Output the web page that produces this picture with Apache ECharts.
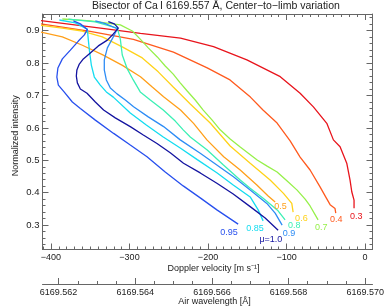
<!DOCTYPE html>
<html><head><meta charset="utf-8">
<script src="https://cdn.jsdelivr.net/npm/echarts@6/dist/echarts.min.js"></script>
<style>html,body{margin:0;padding:0;background:#fff}#c{width:389px;height:306px}</style>
</head><body><div id="c"></div>
<script>
// ---- data ----
const muLabels = ['0.3','0.4','0.5','0.6','0.7','0.8','0.85','0.9','0.95','μ=1.0'];
const velTicks = [-400,-300,-200,-100,0];
const waveTicks = [6169.562,6169.564,6169.566,6169.568,6169.570];
const intTicks = [0.3,0.4,0.5,0.6,0.7,0.8,0.9];

const v_mu030 = [-415,-337,-286,-235,-193,-150.5,-108,-82.7,-65.8,-48.7,-40.3,-31.8,-23.3,-19.1,-16.9,-14,-14];
const i_mu030 = [0.932,0.908,0.892,0.877,0.851,0.810,0.758,0.707,0.665,0.614,0.563,0.542,0.491,0.439,0.403,0.377,0.352];
const v_mu040 = [-415,-350,-295,-244,-201,-172,-146,-130,-112,-95.4,-82.7,-70,-57.3,-49.6,-44.5,-38.2,-37.3];
const i_mu040 = [0.922,0.898,0.873,0.834,0.785,0.748,0.695,0.655,0.615,0.560,0.510,0.470,0.418,0.385,0.363,0.351,0.337];
const v_mu050 = [-415,-385.5,-360,-334.6,-309,-286,-271,-256.6,-235,-218.4,-201.4,-180,-159,-137.8,-123.4,-114.5];
const i_mu050 = [0.897,0.881,0.855,0.826,0.793,0.758,0.726,0.696,0.655,0.614,0.563,0.511,0.470,0.424,0.390,0.371];
const v_mu060 = [-415,-385.5,-360.1,-334.6,-309.2,-283.7,-263.4,-244.3,-222.6,-197.2,-171.8,-146.3,-120.9,-103.9,-93.3,-91.6];
const i_mu060 = [0.917,0.908,0.899,0.881,0.850,0.816,0.773,0.726,0.674,0.615,0.544,0.491,0.439,0.398,0.367,0.340];
const v_mu070 = [-385.5,-349.9,-311.7,-296.4,-286.3,-276.1,-264.6,-254.5,-244.3,-235.4,-226.5,-216.3,-206.1,-194.7,-184.5,-171.8,-159.0,-137.4,-124.7,-112.0,-99.2,-86.5,-76.3,-70.0,-59.8];
const i_mu070 = [0.936,0.930,0.918,0.899,0.874,0.847,0.819,0.791,0.766,0.739,0.714,0.686,0.655,0.624,0.594,0.566,0.541,0.501,0.482,0.464,0.436,0.408,0.380,0.359,0.316];
const v_mu080 = [-377.9,-343.5,-315.5,-311.7,-309.2,-302.8,-295.2,-286.3,-273.5,-257.0,-241.7,-231.6,-222.6,-201.0,-180.7,-159.0,-146.3,-129.8,-111.5,-101.8];
const i_mu080 = [0.936,0.927,0.908,0.874,0.825,0.782,0.748,0.711,0.686,0.655,0.621,0.594,0.572,0.532,0.486,0.439,0.414,0.383,0.346,0.316];
const v_mu085 = [-389.3,-368.9,-353.7,-352.4,-351.1,-348.6,-344.8,-337.2,-329.5,-320.6,-299.0,-278.6,-257.0,-235.4,-213.7,-188.3,-167.9,-146.3,-136.1,-129.8];
const i_mu085 = [0.933,0.924,0.905,0.871,0.840,0.794,0.757,0.732,0.711,0.695,0.646,0.609,0.572,0.538,0.502,0.461,0.424,0.387,0.347,0.313];
const v_mu090 = [-343.5,-330.8,-315.5,-320.6,-328.2,-332.1,-332.1,-329.5,-324.4,-315.9,-305.3,-294.8,-276.1,-256.6,-235.4,-209.9,-188.3,-167.6,-146.3,-125.1,-114.5,-105.6];
const i_mu090 = [0.930,0.922,0.906,0.881,0.847,0.810,0.779,0.748,0.723,0.705,0.686,0.665,0.634,0.604,0.563,0.522,0.485,0.449,0.408,0.367,0.337,0.300];
const v_mu095 = [-371.5,-362.6,-353.7,-357.5,-365.1,-375.3,-385.5,-391.2,-392.5,-390.6,-383.3,-372.8,-362.6,-343.5,-320.2,-299.0,-277.7,-254.5,-231.6,-209.9,-188.7,-161.6];
const i_mu095 = [0.930,0.921,0.904,0.887,0.868,0.840,0.813,0.785,0.757,0.732,0.711,0.680,0.660,0.624,0.583,0.547,0.511,0.464,0.421,0.384,0.347,0.303];
const v_mu100 = [-327.0,-319.3,-314.2,-320.6,-328.2,-339.7,-349.9,-358.8,-363.9,-367.0,-367.7,-366.4,-362.6,-354.1,-343.5,-333.0,-318.1,-299.0,-282.4,-265.0,-248.1,-231.2,-209.9,-188.7,-167.9,-146.3,-127.2,-110.7];
const i_mu100 = [0.928,0.921,0.908,0.890,0.871,0.853,0.831,0.813,0.797,0.779,0.760,0.739,0.720,0.707,0.680,0.655,0.631,0.604,0.578,0.552,0.523,0.491,0.461,0.429,0.396,0.357,0.322,0.284];

const velData = [v_mu030,v_mu040,v_mu050,v_mu060,v_mu070,v_mu080,v_mu085,v_mu090,v_mu095,v_mu100];
const intData = [i_mu030,i_mu040,i_mu050,i_mu060,i_mu070,i_mu080,i_mu085,i_mu090,i_mu095,i_mu100];

// ---- style ----
const colors = ['#e8141c','#ff5a1e','#ff9f1a','#ffd21a','#96f04a','#3cf0b4','#14dcf0','#2d8cf5','#2850ee','#1414a0'];
const labelOffsets = [[-4,8.4],[-5.7,6.3],[-1,4.7],[2,6.3],[-3,7.3],[3,5.7],[-17,7.3],[0.7,8.3],[-18,8.7],[-18.7,9]];
const VMIN = -410.8, VMAX = 9.5;
const WMIN = 6169.56158, WMAX = 6169.57019;
const YMIN = 0.2247, YMAX = 0.9515;
const axisColor = '#666';
const textColor = '#222';
const font = '"Liberation Sans", Arial, Helvetica, sans-serif';

function range(a, b, s) { const r = []; for (let k = 0; a + k * s <= b + s * 1e-6; k++) r.push(+(a + k * s).toFixed(6)); return r; }
const velMinor = range(-410, 0, 10);
const waveMinor = range(6169.562, 6169.570, 0.0005);
const intMinor = range(0.24, 0.94, 0.02);

function ax(o) {
  return Object.assign({
    type: 'value', splitLine: {show: false}, nameMoveOverlap: false,
    axisLine: {show: false, onZero: false, lineStyle: {color: axisColor, width: 1}},
    axisLabel: {show: false}
  }, o);
}
function tick(vals, len) { return {show: true, inside: true, length: len, customValues: vals, lineStyle: {color: axisColor, width: 1}}; }
const lineOn = {show: true, onZero: false, lineStyle: {color: axisColor, width: 1}};
const nameStyle = {fontSize: 9, color: textColor, fontFamily: font};

const xAxes = [
  ax({position: 'bottom', min: VMIN, max: VMAX, axisLine: lineOn, axisTick: tick(velTicks, 6),
      axisLabel: {show: true, customValues: velTicks, margin: 4, fontSize: 9, color: textColor, fontFamily: font,
        formatter: v => String(v).replace('-', '\u2212')},
      name: 'Doppler velocity [m s\u207B\u00B9]', nameLocation: 'middle', nameGap: 15,
      nameTextStyle: Object.assign({padding: [0, 0, 0, 12]}, nameStyle)}),
  ax({position: 'bottom', min: VMIN, max: VMAX, axisTick: tick(velMinor, 3)}),
  ax({position: 'top', min: VMIN, max: VMAX, axisLine: lineOn, axisTick: tick(velTicks, 6)}),
  ax({position: 'top', min: VMIN, max: VMAX, axisTick: tick(velMinor, 3)}),
  ax({position: 'bottom', offset: 34.5, min: WMIN, max: WMAX, axisLine: lineOn, axisTick: tick(waveTicks, 6),
      axisLabel: {show: true, customValues: waveTicks, margin: 4, fontSize: 9, color: textColor, fontFamily: font,
        formatter: v => v.toFixed(3)},
      name: 'Air wavelength [\u00C5]', nameLocation: 'middle', nameGap: 13,
      nameTextStyle: Object.assign({padding: [0, 0, 0, 14]}, nameStyle)}),
  ax({position: 'bottom', offset: 34.5, min: WMIN, max: WMAX, axisTick: tick(waveMinor, 3)})
];
const yAxes = [
  ax({position: 'left', min: YMIN, max: YMAX, axisLine: lineOn, axisTick: tick(intTicks, 6),
      axisLabel: {show: true, customValues: intTicks, margin: 3, fontSize: 9.5, color: textColor, fontFamily: font,
        formatter: v => v.toFixed(1)},
      name: 'Normalized intensity', nameLocation: 'middle', nameRotate: 90, nameGap: 22,
      nameTextStyle: Object.assign({padding: [0, 8, 0, 0]}, nameStyle)}),
  ax({position: 'left', min: YMIN, max: YMAX, axisTick: tick(intMinor, 3)}),
  ax({position: 'right', min: YMIN, max: YMAX, axisLine: lineOn, axisTick: tick(intTicks, 6)}),
  ax({position: 'right', min: YMIN, max: YMAX, axisTick: tick(intMinor, 3)})
];

const series = muLabels.map((lab, k) => ({
  type: 'line', name: lab, xAxisIndex: 0, yAxisIndex: 0,
  data: velData[k].map((v, j) => [v, intData[k][j]]),
  showSymbol: false, symbol: 'none', clip: true, silent: true,
  lineStyle: {color: colors[k], width: 1.3}, itemStyle: {color: colors[k]},
  endLabel: {show: true, formatter: lab, color: colors[k], fontSize: 9, fontFamily: font,
    distance: 0, offset: labelOffsets[k], align: 'left', verticalAlign: 'middle'}
}));

const chart = echarts.init(document.getElementById('c'), null, {renderer: 'canvas'});
chart.setOption({
  animation: false,
  backgroundColor: '#fff',
  title: {text: 'Bisector of Ca\u2009I 6169.557 \u00C5, Center\u2212to\u2212limb variation', left: 92, top: 1, padding: 0,
    textStyle: {fontSize: 10.5, fontWeight: 'normal', color: textColor, fontFamily: font}},
  grid: {left: 42.5, right: 16.5, top: 14, bottom: 56.5, containLabel: false, outerBoundsMode: 'none'},
  xAxis: xAxes,
  yAxis: yAxes,
  series: series
});
</script></body></html>
